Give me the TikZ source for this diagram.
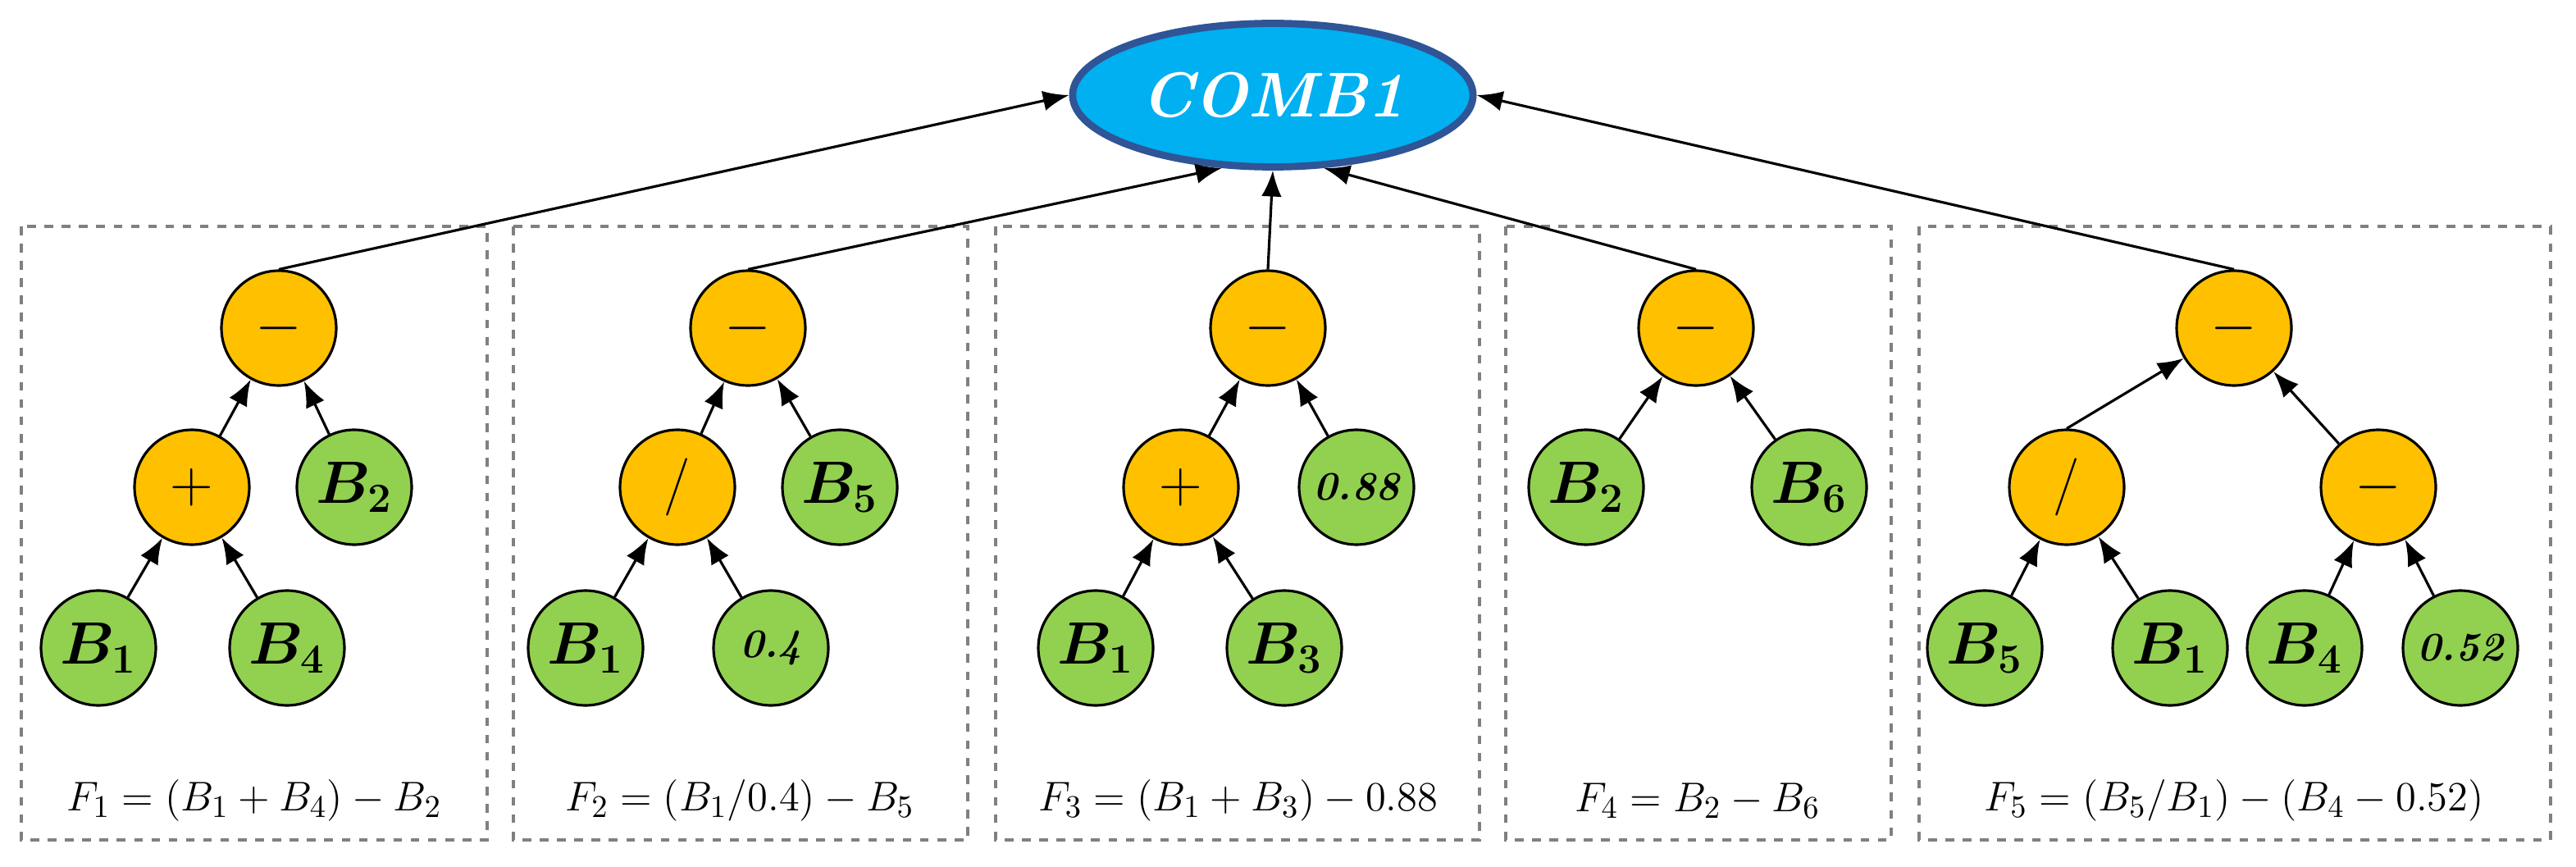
\documentclass[tikz,border=0pt]{standalone}
\usepackage{amsmath}
\usetikzlibrary{shapes.geometric,arrows.meta}
\definecolor{org}{HTML}{FFC000}
\definecolor{grn}{HTML}{92D050}
\definecolor{sky}{HTML}{00B0F0}
\definecolor{dblue}{HTML}{2F5597}
\begin{document}
\begin{tikzpicture}[x=0.02cm,y=-0.02cm,
  op/.style={circle,draw,line width=0.9pt,fill=org,minimum size=1.4cm,inner sep=0pt,font=\fontsize{20}{24}\selectfont},
  lf/.style={circle,draw,line width=0.9pt,fill=grn,minimum size=1.4cm,inner sep=0pt,font=\fontsize{20}{24}\selectfont\bfseries\itshape\boldmath},
  sm/.style={lf,font=\fontsize{14}{16}\selectfont\bfseries\itshape},
  box/.style={draw=gray,dashed,line width=0.9pt},
  ar/.style={-{Latex[length=9pt,width=7pt]},line width=0.9pt},
  fm/.style={font=\fontsize{15}{18}\selectfont}]
\useasboundingbox (0,0) rectangle (1570.5,528.5);
\node[ellipse,draw=dblue,line width=2.5pt,fill=sky,minimum width=4.55cm,minimum height=1.75cm,text=white,font=\fontsize{22}{26}\selectfont\bfseries\itshape] (c) at (776,58) {COMB1};
% boxes
\draw[box] (13,138) rectangle (297,512);
\draw[box] (313,138) rectangle (590,512);
\draw[box] (607,138) rectangle (902,512);
\draw[box] (918,138) rectangle (1153,512);
\draw[box] (1170,138) rectangle (1555,512);
% tree 1
\node[op] (r1) at (170,200) {$-$};
\node[op] (p1) at (117,297) {$+$};
\node[lf] (b12) at (216,297) {$B_{2}$};
\node[lf] (b11) at (60,395) {$B_{1}$};
\node[lf] (b14) at (175,395) {$B_{4}$};
\draw[ar] (p1)--(r1); \draw[ar] (b12)--(r1); \draw[ar] (b11)--(p1); \draw[ar] (b14)--(p1);
\node[fm] (f1) at (155,488) {$F_1=(B_1+B_4)-B_2$};
% tree 2
\node[op] (r2) at (456,200) {$-$};
\node[op] (d2) at (413,297) {/};
\node[lf] (b25) at (512,297) {$B_{5}$};
\node[lf] (b21) at (357,395) {$B_{1}$};
\node[sm] (c2) at (470,395) {0.4};
\draw[ar] (d2)--(r2); \draw[ar] (b25)--(r2); \draw[ar] (b21)--(d2); \draw[ar] (c2)--(d2);
\node[fm] (f2) at (451,488) {$F_2=(B_1/0.4)-B_5$};
% tree 3
\node[op] (r3) at (773,200) {$-$};
\node[op] (p3) at (720,297) {$+$};
\node[sm] (c3) at (827,297) {0.88};
\node[lf] (b31) at (668,395) {$B_{1}$};
\node[lf] (b33) at (783,395) {$B_{3}$};
\draw[ar] (p3)--(r3); \draw[ar] (c3)--(r3); \draw[ar] (b31)--(p3); \draw[ar] (b33)--(p3);
\node[fm] (f3) at (755,488) {$F_3=(B_1+B_3)-0.88$};
% tree 4
\node[op] (r4) at (1034,200) {$-$};
\node[lf] (b42) at (967,297) {$B_{2}$};
\node[lf] (b46) at (1103,297) {$B_{6}$};
\draw[ar] (b42)--(r4); \draw[ar] (b46)--(r4);
\node[fm] (f4) at (1035,488) {$F_4=B_2-B_6$};
% tree 5
\node[op] (r5) at (1362,200) {$-$};
\node[op] (d5) at (1260,297) {/};
\node[op] (m5) at (1450,297) {$-$};
\node[lf] (b55) at (1210,395) {$B_{5}$};
\node[lf] (b51) at (1323,395) {$B_{1}$};
\node[lf] (b54) at (1405,395) {$B_{4}$};
\node[sm] (c5) at (1500,395) {0.52};
\draw[ar] (d5.north)--(r5); \draw[ar] (m5)--(r5); \draw[ar] (b55)--(d5); \draw[ar] (b51)--(d5);
\draw[ar] (b54)--(m5); \draw[ar] (c5)--(m5);
\node[fm] (f5) at (1362,488) {$F_5=(B_5/B_1)-(B_4-0.52)$};
% to COMB1
\draw[ar] (r1.north) -- (c.180);
\draw[ar] (r2.north) -- (c.235);
\draw[ar] (r3.north) -- (c.270);
\draw[ar] (r4.north) -- (c.305);
\draw[ar] (r5.north) -- (c.0);
\end{tikzpicture}
\end{document}
